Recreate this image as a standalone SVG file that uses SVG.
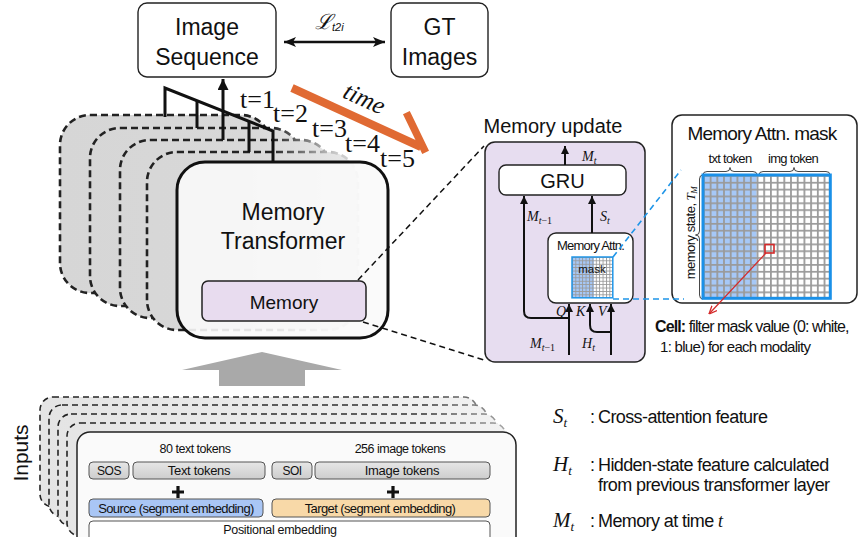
<svg xmlns="http://www.w3.org/2000/svg" width="861" height="537" viewBox="0 0 861 537">
<defs>
<style>
.sans{font-family:"Liberation Sans",Arial,sans-serif;fill:#111}
.serif{font-family:"Liberation Serif","Times New Roman",serif;fill:#111}
.it{font-style:italic}
.mid{text-anchor:middle}
.box{fill:#fff;stroke:#222;stroke-width:1.4}
.tok{fill:url(#tokGrad);stroke:#555;stroke-width:1}
.wire{fill:none;stroke:#111;stroke-width:2}
.thick{fill:none;stroke:#111;stroke-width:3}
.stack{stroke:url(#stackStroke);stroke-width:2.6;stroke-dasharray:7 4;fill:url(#stackFill)}
.istack{stroke:url(#inStroke);stroke-width:1.6;stroke-dasharray:6 4;fill:url(#inFill)}
.dash{fill:none;stroke:#111;stroke-width:1.5;stroke-dasharray:6 4}
.bdash{fill:none;stroke:#1f95e8;stroke-width:1.6;stroke-dasharray:6 4}
</style>
<linearGradient id="stackStroke" gradientUnits="userSpaceOnUse" x1="60" y1="0" x2="380" y2="0">
<stop offset="0" stop-color="#222"/><stop offset="0.66" stop-color="#222"/><stop offset="0.86" stop-color="#c8c8c8"/><stop offset="1" stop-color="#e2e2e2"/>
</linearGradient>
<linearGradient id="stackFill" gradientUnits="userSpaceOnUse" x1="60" y1="0" x2="380" y2="0">
<stop offset="0" stop-color="#d6d6d6"/><stop offset="0.6" stop-color="#d8d8d8"/><stop offset="1" stop-color="#ececec"/>
</linearGradient>
<linearGradient id="inStroke" gradientUnits="userSpaceOnUse" x1="40" y1="0" x2="520" y2="0">
<stop offset="0" stop-color="#222"/><stop offset="0.8" stop-color="#333"/><stop offset="1" stop-color="#bbb"/>
</linearGradient>
<linearGradient id="inFill" gradientUnits="userSpaceOnUse" x1="40" y1="0" x2="520" y2="0">
<stop offset="0" stop-color="#e4e4e4"/><stop offset="1" stop-color="#f2f2f2"/>
</linearGradient>
<linearGradient id="tokGrad" x1="0" y1="0" x2="0" y2="1">
<stop offset="0" stop-color="#e6e6e6"/><stop offset="1" stop-color="#cdcdcd"/>
</linearGradient>
<pattern id="gridBig" patternUnits="userSpaceOnUse" x="703" y="175" width="6.7" height="6.85">
<path d="M0,0.9H6.7M0.9,0V6.85" stroke="#9a9a9a" stroke-width="1.8" fill="none"/>
</pattern>
<pattern id="gridSmall" patternUnits="userSpaceOnUse" x="572" y="257" width="3.4" height="3.4">
<path d="M0,0.45H3.4M0.45,0V3.4" stroke="#999" stroke-width="0.9" fill="none"/>
</pattern>
<marker id="ah" viewBox="0 0 8 8" refX="8" refY="4" markerWidth="8" markerHeight="8" markerUnits="userSpaceOnUse" orient="auto">
<path d="M0,0L8,4L0,8z" fill="#111"/>
</marker>
<marker id="ahBig" viewBox="0 0 10 10" refX="10" refY="5" markerWidth="11" markerHeight="11" markerUnits="userSpaceOnUse" orient="auto">
<path d="M0,0L10,5L0,10z" fill="#111"/>
</marker>
<marker id="ahStealth" viewBox="0 0 12 10" refX="12" refY="5" markerWidth="13" markerHeight="10" markerUnits="userSpaceOnUse" orient="auto-start-reverse">
<path d="M0,0L12,5L0,10L3,5z" fill="#111"/>
</marker>
<marker id="ahRed" viewBox="0 0 8 8" refX="8" refY="4" markerWidth="8" markerHeight="8" markerUnits="userSpaceOnUse" orient="auto">
<path d="M0,0.5L8,4L0,7.5" fill="none" stroke="#d42a2a" stroke-width="1.3"/>
</marker>
</defs>

<rect width="861" height="537" fill="#fff"/>

<!-- output image sequence -->
<g id="image-sequence">
<rect class="box" x="138" y="3" width="138" height="74" rx="9"/>
<text class="sans mid" x="207" y="35" font-size="23">Image</text>
<text class="sans mid" x="207" y="65" font-size="23">Sequence</text>
</g>

<g id="gt-images">
<rect class="box" x="391" y="3" width="97" height="74" rx="9"/>
<text class="sans mid" x="439.5" y="35" font-size="23">GT</text>
<text class="sans mid" x="439.5" y="65" font-size="23">Images</text>
</g>

<!-- memory transformer unrolled over time steps -->
<g id="transformer-stack">
<rect class="stack" x="60" y="115" width="211" height="178" rx="30"/>
<rect class="stack" x="90" y="128" width="211" height="178" rx="30"/>
<rect class="stack" x="120" y="140" width="211" height="178" rx="30"/>
<rect class="stack" x="147" y="152" width="211" height="178" rx="30"/>
</g>

<g id="time-outputs">
<path class="thick" d="M165,117V88L273,131V162"/>
<path class="thick" d="M197,128V101"/>
<path class="thick" d="M249,152V121"/>
<path class="thick" d="M223,140V79" marker-end="url(#ahBig)"/>
<g class="serif" font-size="26">
<text x="240" y="108">t=1</text>
<text x="273" y="122">t=2</text>
<text x="312" y="137">t=3</text>
<text x="345" y="152">t=4</text>
<text x="380" y="167">t=5</text>
</g>
</g>

<g id="time-arrow">
<path d="M292,88L421,147" stroke="#e06a33" stroke-width="8" fill="none"/>
<path d="M408,116L424,149" stroke="#e06a33" stroke-width="7.5" fill="none" stroke-linecap="square"/>
<text class="serif it mid" font-size="25" transform="translate(361,106) rotate(24.6)">time</text>
</g>

<g id="memory-transformer">
<rect x="177" y="162" width="211" height="176" rx="28" fill="#fafafa" fill-opacity="0.9" stroke="#111" stroke-width="3"/>
<text class="sans mid" x="283" y="220" font-size="23">Memory</text>
<text class="sans mid" x="283" y="249" font-size="23">Transformer</text>
</g>

<g id="memory">
<rect x="202" y="281" width="164" height="40" rx="6" fill="#e8dcef" stroke="#222" stroke-width="1.5"/>
<text class="sans mid" x="284" y="309" font-size="19">Memory</text>
</g>

<!-- loss between generated and ground-truth images -->
<g id="connectors">
<path d="M284,42H385" stroke="#111" stroke-width="2.5" fill="none" marker-start="url(#ahStealth)" marker-end="url(#ahStealth)"/>
<path class="dash" d="M358,280L484,146"/>
<path class="dash" d="M363,322L484,360"/>
<path d="M182,370L262,352L342,370H305V386H219V370z" fill="#a9a9a9"/>
</g>
<text class="serif it" x="315" y="29" font-size="21" font-family="'DejaVu Serif','Liberation Serif',serif">ℒ<tspan font-size="11" dy="2" font-family="'Liberation Sans',Arial,sans-serif">t2i</tspan></text>

<!-- memory update module -->
<g id="memory-update">
<text class="sans mid" x="553" y="133" font-size="20">Memory update</text>
<rect x="485" y="142" width="160" height="220" rx="10" fill="#e7ddf0" stroke="#222" stroke-width="1.5"/>
</g>

<g id="gru">
<rect class="box" x="499" y="165" width="127" height="30" rx="7"/>
<text class="sans mid" x="562.5" y="188" font-size="20">GRU</text>
</g>

<g id="memory-attn">
<rect class="box" x="548" y="233" width="85" height="70" rx="8"/>
<text class="sans mid" x="590.5" y="250" font-size="13" letter-spacing="-0.8">Memory Attn.</text>
<rect x="572" y="257" width="40.8" height="40.8" fill="#fff"/>
<rect x="572" y="257" width="22" height="40.8" fill="#a6c8f7"/>
<rect x="572" y="257" width="40.8" height="40.8" fill="url(#gridSmall)"/>
<rect x="572" y="257" width="40.8" height="40.8" fill="none" stroke="#1f95e8" stroke-width="1.5"/>
<text class="sans mid" x="592" y="273" font-size="11.5">mask</text>
</g>

<g id="update-wires">
<path class="wire" d="M565,165V146" marker-end="url(#ah)"/>
<path class="wire" d="M592,233V196" marker-end="url(#ah)"/>
<path class="wire" d="M569,355V304" marker-end="url(#ah)"/>
<path class="wire" d="M569,318H531Q524,318 524,311V196" marker-end="url(#ah)"/>
<path class="wire" d="M611,355V304" marker-end="url(#ah)"/>
<path class="wire" d="M611,332H597Q590,332 590,325V304" marker-end="url(#ah)"/>
<g class="serif it" font-size="14">
<text x="582" y="161">M<tspan font-size="10" dy="3">t</tspan></text>
<text x="527" y="221">M<tspan font-size="10" dy="3">t</tspan><tspan font-size="10" font-style="normal">−1</tspan></text>
<text x="600" y="221">S<tspan font-size="10" dy="3">t</tspan></text>
<text x="556" y="316">Q</text>
<text x="576" y="316">K</text>
<text x="598" y="316">V</text>
<text x="530" y="348">M<tspan font-size="10" dy="3">t</tspan><tspan font-size="10" font-style="normal">−1</tspan></text>
<text x="582" y="348">H<tspan font-size="10" dy="3">t</tspan></text>
</g>
</g>

<!-- enlarged attention mask -->
<g id="mask-panel">
<rect x="672" y="115" width="185" height="188" rx="10" fill="#fff" stroke="#222" stroke-width="1.5"/>
<text class="sans mid" x="762" y="140" font-size="19" letter-spacing="-0.8">Memory Attn. mask</text>
<text class="sans mid" x="730" y="163" font-size="13" letter-spacing="-0.7">txt token</text>
<text class="sans mid" x="793" y="163" font-size="13" letter-spacing="-0.7">img token</text>
<path d="M703,175Q703,171.5 707,171.5H726Q730,171.5 730,167.5Q730,171.5 734,171.5H753Q757,171.5 757,175" fill="none" stroke="#333" stroke-width="0.9"/>
<path d="M759,175Q759,171.5 763,171.5H790Q794,171.5 794,167.5Q794,171.5 798,171.5H826Q830,171.5 830,175" fill="none" stroke="#333" stroke-width="0.9"/>
<path d="M703,175Q699.5,175 699.5,179V231Q699.5,235 695.5,235Q699.5,235 699.5,239V295Q699.5,299 703,299" fill="none" stroke="#333" stroke-width="0.9"/>
<text class="sans mid" font-size="13" letter-spacing="-0.5" transform="translate(695,233) rotate(-90)">memory state, <tspan class="serif it">T<tspan font-size="9" dy="2">M</tspan></tspan></text>
<rect x="703" y="175" width="127.3" height="123.3" fill="#fff"/>
<rect x="703" y="175" width="53.6" height="123.3" fill="#a6c8f7"/>
<rect x="703" y="175" width="127.3" height="123.3" fill="url(#gridBig)"/>
<rect x="703" y="175" width="127.3" height="123.3" fill="none" stroke="#1a90e8" stroke-width="3"/>
<rect x="765" y="244.5" width="9" height="8.5" fill="none" stroke="#d42a2a" stroke-width="1.6"/>
<path d="M766,253L709,314" stroke="#d42a2a" stroke-width="1.2" fill="none" marker-end="url(#ahRed)"/>
</g>

<g id="zoom-lines">
<path class="bdash" d="M613,257L681,170"/>
<path class="bdash" d="M613,299H684"/>
</g>

<g id="cell-note">
<text class="sans" x="655" y="332" font-size="16" letter-spacing="-0.9"><tspan font-weight="bold">Cell:</tspan> filter mask value (0: white,</text>
<text class="sans" x="660" y="352" font-size="15" letter-spacing="-0.7">1: blue)  for each modality</text>
</g>

<!-- token inputs, stacked per time step -->
<g id="inputs-stack">
<rect class="istack" x="40" y="397" width="437" height="110" rx="13"/>
<rect class="istack" x="49" y="405" width="438" height="112" rx="13"/>
<rect class="istack" x="58" y="414" width="439" height="112" rx="13"/>
<rect class="istack" x="67" y="423" width="439" height="113" rx="13"/>
</g>
<text class="sans mid" font-size="21" transform="translate(28,453) rotate(-90)">Inputs</text>

<g id="inputs">
<rect x="77" y="432" width="439" height="130" rx="13" fill="#fafafa" stroke="#222" stroke-width="1.5"/>
<text class="sans mid" x="195" y="453" font-size="12.5" letter-spacing="-0.5">80 text tokens</text>
<text class="sans mid" x="400" y="453" font-size="12.5" letter-spacing="-0.5">256 image tokens</text>
<rect class="tok" x="89" y="462" width="40" height="17" rx="4"/>
<text class="sans mid" x="109" y="475" font-size="12" letter-spacing="-0.5">SOS</text>
<rect class="tok" x="133" y="462" width="132" height="17" rx="4"/>
<text class="sans mid" x="199" y="475" font-size="13" letter-spacing="-0.3">Text tokens</text>
<rect class="tok" x="272" y="462" width="40" height="17" rx="4"/>
<text class="sans mid" x="292" y="475" font-size="12" letter-spacing="-0.5">SOI</text>
<rect class="tok" x="315" y="462" width="175" height="17" rx="4"/>
<text class="sans mid" x="402" y="475" font-size="13" letter-spacing="-0.3">Image tokens</text>
<path d="M178,486V498M172,492H184M393,486V498M387,492H399" stroke="#111" stroke-width="3.2"/>
<rect x="89" y="499" width="174" height="18" rx="4" fill="#a9c6f5" stroke="#555" stroke-width="1"/>
<text class="sans mid" x="176" y="513" font-size="13" letter-spacing="-0.6">Source (segment embedding)</text>
<rect x="272" y="499" width="218" height="18" rx="4" fill="#f8d9a8" stroke="#555" stroke-width="1"/>
<text class="sans mid" x="380" y="513" font-size="13" letter-spacing="-0.6">Target (segment embedding)</text>
<rect x="89" y="521" width="401" height="30" rx="4" fill="#fff" stroke="#555" stroke-width="1"/>
<text class="sans mid" x="280" y="534" font-size="12.5" letter-spacing="-0.3">Positional embedding</text>
</g>

<!-- notation -->
<g id="legend">
<text class="serif it" x="553" y="423" font-size="21">S<tspan font-size="13" dy="4">t</tspan></text>
<text class="sans" x="590" y="423" font-size="18">:</text>
<text class="sans" x="598" y="423" font-size="18" letter-spacing="-0.6">Cross-attention feature</text>
<text class="serif it" x="553" y="471" font-size="21">H<tspan font-size="13" dy="4">t</tspan></text>
<text class="sans" x="590" y="471" font-size="18">:</text>
<text class="sans" x="598" y="471" font-size="18" letter-spacing="-0.6">Hidden-state feature calculated</text>
<text class="sans" x="598" y="491" font-size="18" letter-spacing="-0.6">from previous transformer layer</text>
<text class="serif it" x="553" y="527" font-size="21">M<tspan font-size="13" dy="4">t</tspan></text>
<text class="sans" x="590" y="527" font-size="18">:</text>
<text class="sans" x="598" y="527" font-size="18" letter-spacing="-0.6">Memory at time <tspan class="serif it">t</tspan></text>
</g>
</svg>
